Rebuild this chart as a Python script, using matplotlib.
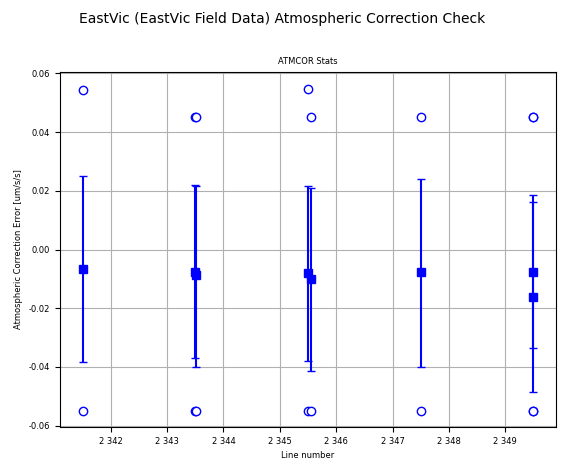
import matplotlib
matplotlib.use("Agg")
import matplotlib.pyplot as plt
from matplotlib.ticker import FuncFormatter

line_x = [2341.5, 2343.5, 2343.52, 2345.5, 2345.55, 2347.5, 2349.5, 2349.5]
mean = [-0.0068, -0.0075, -0.0088, -0.0080, -0.0102, -0.0078, -0.0075, -0.0162]
err_hi = [0.0318, 0.0295, 0.0303, 0.0295, 0.0312, 0.0318, 0.0260, 0.0325]
err_lo = [0.0317, 0.0295, 0.0312, 0.0300, 0.0313, 0.0322, 0.0260, 0.0323]
vmax = [0.0545, 0.045, 0.045, 0.0548, 0.045, 0.045, 0.045, 0.045]
vmin = [-0.055, -0.055, -0.0552, -0.055, -0.0552, -0.055, -0.055, -0.0552]

fig = plt.figure(figsize=(5.65, 4.7), dpi=100)
ax = fig.add_axes([60/565, 1-427/470, 496/565, 355/470])
for i in range(len(line_x)):
    ax.errorbar(line_x[i], mean[i], yerr=[[err_lo[i]], [err_hi[i]]], fmt='s', color='blue',
                ms=6, capsize=3, elinewidth=1.5, zorder=3)
    ax.plot(line_x[i], vmax[i], 'o', mfc='white', mec='blue', ms=6, zorder=3)
    ax.plot(line_x[i], vmin[i], 'o', mfc='white', mec='blue', ms=6, zorder=3)
ax.set_xlim(2341.1, 2349.9)
ax.set_ylim(-0.0605, 0.0605)
ax.set_xticks([2342, 2343, 2344, 2345, 2346, 2347, 2348, 2349])
ax.xaxis.set_major_formatter(FuncFormatter(lambda v, p: f"{int(round(v)):,}".replace(",", " ")))
ax.set_yticks([-0.06, -0.04, -0.02, 0.0, 0.02, 0.04, 0.06])
ax.yaxis.set_major_formatter(FuncFormatter(lambda v, p: f"{v:.2f}"))
ax.grid(True, color='#b0b0b0')
ax.set_axisbelow(True)
ax.tick_params(labelsize=6)
ax.set_xlabel("Line number", fontsize=6)
ax.set_ylabel("Atmospheric Correction Error [um/s/s]", fontsize=6)
ax.set_title("ATMCOR Stats", fontsize=6)
fig.suptitle("EastVic (EastVic Field Data) Atmospheric Correction Check", fontsize=10, y=0.975)
fig.savefig("out.png", dpi=100)
